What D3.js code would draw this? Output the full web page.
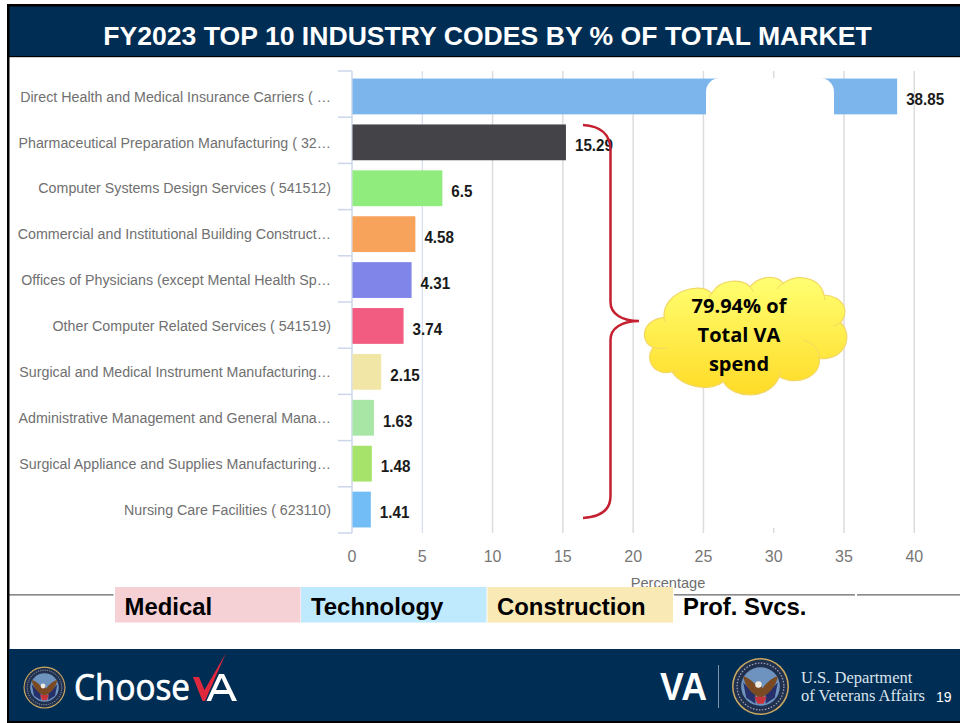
<!DOCTYPE html>
<html><head><meta charset="utf-8">
<script src="https://cdn.jsdelivr.net/npm/d3@7/dist/d3.min.js"></script>
<style>html,body{margin:0;padding:0;background:#fff}svg{display:block}text{font-family:"Liberation Sans",Arial,sans-serif}</style>
</head><body><svg id="c" width="960" height="723"></svg>
<script>
const categories = ["Direct Health and Medical Insurance Carriers ( …","Pharmaceutical Preparation Manufacturing ( 32…","Computer Systems Design Services ( 541512)","Commercial and Institutional Building Construct…","Offices of Physicians (except Mental Health Sp…","Other Computer Related Services ( 541519)","Surgical and Medical Instrument Manufacturing…","Administrative Management and General Mana…","Surgical Appliance and Supplies Manufacturing…","Nursing Care Facilities ( 623110)"];
const values = [38.85,15.29,6.5,4.58,4.31,3.74,2.15,1.63,1.48,1.41];
const barColors = ["#7cb5ec","#434348","#90ed7d","#f7a35c","#8085e9","#f15c80","#f1e6a6","#a8e6a6","#a5e36a","#73bdf7"];
const xTicks = [0,5,10,15,20,25,30,35,40];
const legendLabels = ["Medical","Technology","Construction"];
const legendColors = ["#f5d0d5","#bfe9fd","#f9e9b4"];
const svg = d3.select("#c");
const navy = "#002d54";
const defs = svg.append("defs");
const g = defs.append("linearGradient").attr("id","cl").attr("x1",0).attr("x2",0).attr("y1",0).attr("y2",1);
g.append("stop").attr("offset","0%").attr("stop-color","#ffff72");
g.append("stop").attr("offset","100%").attr("stop-color","#ffdb26");

svg.append("rect").attr("width",960).attr("height",723).attr("fill","#fff");
const x = d3.scaleLinear().domain([0,40]).range([352,914.3]);
const y = d3.scaleBand().domain(categories).range([73.5,532.5]).paddingInner(0.22).paddingOuter(0.11);
const tickY = d3.scaleLinear().domain([0,10]).range([71,533]);

svg.append("g").selectAll("line").data(xTicks.slice(1)).join("line")
 .attr("x1",d=>x(d)).attr("x2",d=>x(d)).attr("y1",71).attr("y2",533)
 .attr("stroke",d=>d===5?"#ccd6eb":"#dcdcdc").attr("stroke-width",d=>d===5?1:1.5);
const axisY = d3.axisLeft(y).tickSize(0).tickValues(categories);
const ag = svg.append("g").attr("transform","translate(352,0)").call(axisY);
ag.select(".domain").attr("d","M0,71V533").attr("stroke","#ccd6eb").attr("stroke-width",1.5);
ag.selectAll(".tick text").attr("fill","#707070").attr("font-size",15.2)
  .attr("transform","scale(0.937,1)").attr("dy","0.34em").attr("x",-21/0.937).attr("y",0);
svg.append("g").selectAll("line").data(d3.range(11)).join("line")
 .attr("x1",338).attr("x2",352)
 .attr("y1",i=>tickY(i)).attr("y2",i=>tickY(i))
 .attr("stroke","#ccd6eb").attr("stroke-width",1.5);
svg.append("g").selectAll("rect").data(values).join("rect")
 .attr("x",x(0)+0.5).attr("y",(d,i)=>y(categories[i]))
 .attr("width",d=>x(d)-x(0)-1.5).attr("height",y.bandwidth())
 .attr("fill",(d,i)=>barColors[i]);
svg.append("path").attr("fill","#fff")
 .attr("d","M706,528V92A14,14 0 0 1 720,78H820A14,14 0 0 1 834,92V528Z");
svg.append("g").selectAll("text").data(values).join("text")
 .attr("transform",(d,i)=>`translate(${x(d)+8},${y(categories[i])+y.bandwidth()/2+(i===0?8.5:8.8)}) scale(0.95,1)`)
 .attr("font-size",16).attr("font-weight","bold").attr("fill","#1a1a1a")
 .text(d=>d);
svg.append("g").selectAll("text").data(xTicks).join("text")
 .attr("x",d=>x(d)).attr("y",562).attr("text-anchor","middle")
 .attr("font-size",16).attr("fill","#777").text(d=>d);
svg.append("text").attr("x",668).attr("y",588).attr("text-anchor","middle").attr("font-size",14.6).attr("fill","#6e6e6e").text("Percentage");
svg.append("path").attr("fill","none").attr("stroke","#c4202f").attr("stroke-width",2.5)
 .attr("d","M583,125C600,126 610.5,134 610.5,150V302C610.5,314 622,321 639,321C622,321 610.5,328 610.5,340V496C610.5,510 600,517 583,518");
const pt=(a,b)=>[(570+a/3).toFixed(1),(260+b/3).toFixed(1)].join(",");
svg.append("path").attr("fill","url(#cl)").attr("stroke","#f3d765").attr("stroke-width",1.2)
 .attr("d",`M${pt(283,178)}C${pt(270,100)} ${pt(390,60)} ${pt(425,100)}C${pt(450,55)} ${pt(520,55)} ${pt(540,80)}C${pt(570,45)} ${pt(620,45)} ${pt(640,70)}C${pt(680,40)} ${pt(750,50)} ${pt(762,105)}C${pt(820,110)} ${pt(840,150)} ${pt(812,188)}C${pt(850,225)} ${pt(830,300)} ${pt(748,296)}C${pt(755,350)} ${pt(680,380)} ${pt(628,350)}C${pt(600,420)} ${pt(490,420)} ${pt(460,365)}C${pt(420,395)} ${pt(340,385)} ${pt(305,335)}C${pt(255,350)} ${pt(220,300)} ${pt(250,262)}C${pt(210,250)} ${pt(210,180)} ${pt(283,172)}Z`);
svg.append("path").attr("fill","none").attr("stroke","#f3d765").attr("stroke-width",1)
 .attr("d",`M${pt(700,240)}C${pt(735,250)} ${pt(750,275)} ${pt(748,296)}M${pt(250,262)}C${pt(265,266)} ${pt(280,266)} ${pt(295,265)}M${pt(305,335)}C${pt(315,335)} ${pt(320,335)} ${pt(325,332)}M${pt(460,365)}C${pt(450,355)} ${pt(450,350)} ${pt(448,345)}M${pt(628,350)}C${pt(630,340)} ${pt(630,335)} ${pt(630,330)}M${pt(812,188)}C${pt(805,192)} ${pt(795,196)} ${pt(790,198)}M${pt(762,105)}C${pt(765,112)} ${pt(765,115)} ${pt(763,120)}M${pt(640,70)}C${pt(630,75)} ${pt(625,82)} ${pt(622,88)}M${pt(540,80)}C${pt(545,85)} ${pt(548,90)} ${pt(550,95)}M${pt(425,100)}C${pt(420,105)} ${pt(418,110)} ${pt(417,115)}M${pt(283,178)}C${pt(284,180)} ${pt(285,184)} ${pt(287,188)}`);
svg.append("g").selectAll("text").data(["79.94% of","Total VA","spend"]).join("text")
 .attr("x",739).attr("y",(d,i)=>313+i*29).attr("text-anchor","middle")
 .style("font-family","'Open Sans'").attr("font-weight",700).attr("font-size",20).attr("fill","#000").text(d=>d);
const legX=[115,301,487.5];
svg.append("g").selectAll("rect").data(legendLabels).join("rect")
 .attr("x",(d,i)=>legX[i]).attr("y",587).attr("width",185.5).attr("height",35.5).attr("fill",(d,i)=>legendColors[i]);
svg.append("g").selectAll("text").data(legendLabels.concat(["Prof. Svcs."])).join("text")
 .attr("x",(d,i)=>[124.5,311,497,683][i]).attr("y",615).attr("font-size",23.9).attr("font-weight","bold").attr("fill","#000").text(d=>d);
svg.append("path").attr("stroke","#666").attr("stroke-width",1.3).attr("fill","none")
 .attr("d","M9,594.8H113.5M674,594.8H855M857,594.8H960");
svg.append("rect").attr("x",7).attr("y",4).attr("width",953).attr("height",52).attr("fill",navy);
svg.append("rect").attr("x",7).attr("y",4).attr("width",953).attr("height",2.5).attr("fill","#000");
svg.append("rect").attr("x",7).attr("y",56).attr("width",953).attr("height",1.2).attr("fill","#000");
svg.append("rect").attr("x",7).attr("y",4).attr("width",2.5).attr("height",719).attr("fill","#000");
svg.append("text").attr("x",487.5).attr("y",45).attr("text-anchor","middle").attr("font-size",26.6).attr("font-weight","bold").attr("fill","#fff").text("FY2023 TOP 10 INDUSTRY CODES BY % OF TOTAL MARKET");
svg.append("rect").attr("x",9).attr("y",649).attr("width",951).attr("height",72).attr("fill",navy);
svg.append("rect").attr("x",7).attr("y",721).attr("width",953).attr("height",2).attr("fill","#000");
function seal(cx,cy,r){
 const s=svg.append("g").attr("transform",`translate(${cx},${cy}) scale(${r/28})`);
 s.append("circle").attr("r",28).attr("fill","#c9a860");
 s.append("circle").attr("r",26.5).attr("fill","#20304f");
 s.append("circle").attr("r",19).attr("fill","#6f93bf");
 s.append("path").attr("fill","#26306a").attr("d","M-17,-4L-5,8L-5,17L-14,11ZM17,-4L5,8L5,17L14,11Z");
 s.append("path").attr("fill","#7a4a22").attr("d","M-17,-10C-12,-9 -6,-4 -2,2L0,-3L2,2C6,-4 12,-9 17,-10C16,-2 10,6 4,9L0,12L-4,9C-10,6 -16,-2 -17,-10Z");
 s.append("circle").attr("cx",-2).attr("cy",-2).attr("r",3.2).attr("fill","#f0ece0");
 s.append("path").attr("fill","#c8343c").attr("d","M-6,10H6L3,17H-3Z");
 s.append("circle").attr("r",23).attr("fill","none").attr("stroke","#9fa6b8").attr("stroke-width",1.2).attr("stroke-dasharray","1.5 1.5");
}
seal(44.5,687.5,21); seal(760.5,686.5,28.5);
svg.append("text").attr("x",74).attr("y",700).style("font-family","'Open Sans'").attr("font-size",36).attr("fill","#fff").attr("stroke","#fff").attr("stroke-width",0.7).attr("textLength",116).attr("lengthAdjust","spacingAndGlyphs").text("Choose");
svg.append("path").attr("fill","#e0283c").attr("d","M193,677H199L204.5,690L226,653L205,701H202.5Z");
svg.append("path").attr("fill","#fff").attr("d","M206.5,701L219,674H224L237,701H232L229,694H214L211,701ZM216,690H227L221.5,678Z");
svg.append("text").attr("x",660).attr("y",700).attr("font-size",39).attr("font-weight","bold").attr("fill","#fff").attr("textLength",47).attr("lengthAdjust","spacingAndGlyphs").text("VA");
svg.append("line").attr("x1",718.5).attr("x2",718.5).attr("y1",665).attr("y2",708).attr("stroke","#7f95ab").attr("stroke-width",1);
svg.append("text").attr("x",801).attr("y",682.5).style("font-family","'Liberation Serif'").attr("font-size",16.5).attr("fill","#dbe4ec").text("U.S. Department");
svg.append("text").attr("x",801).attr("y",701).style("font-family","'Liberation Serif'").attr("font-size",16.5).attr("fill","#dbe4ec").text("of Veterans Affairs");
svg.append("text").attr("x",936).attr("y",702).attr("font-size",14).attr("fill","#fff").text("19");
</script></body></html>
